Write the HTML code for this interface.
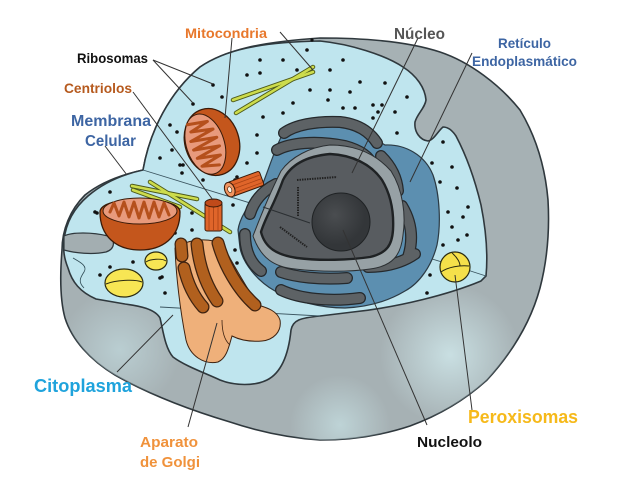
<!DOCTYPE html>
<html><head><meta charset="utf-8"><style>
html,body{margin:0;padding:0;background:#fff;}
svg{display:block;}
text{font-family:"Liberation Sans",sans-serif;font-weight:bold;}
</style></head><body>
<svg width="640" height="480" viewBox="0 0 640 480" xmlns="http://www.w3.org/2000/svg">
<defs>
<radialGradient id="hl1" cx="450" cy="355" r="70" gradientUnits="userSpaceOnUse">
<stop offset="0" stop-color="#cfe7ea" stop-opacity="0.85"/><stop offset="1" stop-color="#cfe7ea" stop-opacity="0"/></radialGradient>
<radialGradient id="hl2" cx="120" cy="350" r="60" gradientUnits="userSpaceOnUse">
<stop offset="0" stop-color="#c2dade" stop-opacity="0.7"/><stop offset="1" stop-color="#c2dade" stop-opacity="0"/></radialGradient>
<radialGradient id="hl3" cx="340" cy="425" r="50" gradientUnits="userSpaceOnUse">
<stop offset="0" stop-color="#c8e2e5" stop-opacity="0.7"/><stop offset="1" stop-color="#c8e2e5" stop-opacity="0"/></radialGradient>
<radialGradient id="nucg" cx="335" cy="215" r="30" gradientUnits="userSpaceOnUse">
<stop offset="0" stop-color="#4a4d50"/><stop offset="1" stop-color="#333639"/></radialGradient>
<path id="cell" d="M143,170 C150,130 170,92 200,67 C225,50 260,42 320,38 C370,38 410,42 440,52 C470,62 500,85 520,110 C535,135 545,165 548,200 C550,235 546,265 540,288 C530,325 510,355 487,380 C465,400 440,415 410,426 C380,436 350,440 320,440 C290,438 260,432 230,422 C190,410 150,395 115,375 C90,360 72,340 65,318 C60,300 60,275 62,250 C62,230 70,210 85,195 C100,183 120,175 143,170 Z"/>
</defs>

<!-- outer gray body -->
<use href="#cell" fill="#a6b1b4" stroke="#2f383d" stroke-width="1.6"/>
<use href="#cell" fill="url(#hl1)"/>
<use href="#cell" fill="url(#hl2)"/>
<use href="#cell" fill="url(#hl3)"/>

<!-- cyan cytoplasm cut-away -->
<path d="M143,170 C150,130 170,92 200,67 C225,50 260,42 320,41 C350,44 385,55 403,67 C417,76 425,88 426,100 C425,108 417,114 415,122 C414,132 420,140 428,141 C434,140 438,131 443,127 C448,127 452,130 456,136 C466,155 475,180 481,205 C486,230 488,255 486,276 L481,281 C450,294 400,307 353,312 L320,316 C300,318 293,320 291,330 C289,350 283,372 267,380 C255,386 235,386 220,380 C205,373 185,366 173,357 C165,348 163,330 160,318 C155,309 140,306 125,304 L96,299 C80,292 72,282 68,268 C64,258 63,250 64,240 C66,222 74,208 88,196 C102,184 120,175 143,170 Z" fill="#bfe5ee" stroke="#2f383d" stroke-width="1.6"/>

<!-- left gray lip -->
<path d="M64,236 C72,232 92,232 108,236 C116,240 115,249 106,252 C92,255 75,253 64,250 Z" fill="#a3aeb1" stroke="#2f383d" stroke-width="1.2"/>
<path d="M73,258 C80,262 88,266 84,272 C80,278 78,282 84,288" fill="none" stroke="#2f4b55" stroke-width="0.8"/>

<!-- cut plane lines -->
<g stroke="#3b5560" stroke-width="0.9" fill="none">
<path d="M143,170 L263,207"/>
<path d="M160,307 L320,316"/>
<path d="M370,240 L455,266 L486,276"/>
</g>

<!-- ribosome dots -->
<g fill="#111">
<circle cx="213" cy="85" r="1.8"/><circle cx="193" cy="104" r="1.8"/><circle cx="222" cy="97" r="1.8"/><circle cx="260" cy="60" r="1.8"/><circle cx="283" cy="60" r="1.8"/><circle cx="307" cy="50" r="1.8"/><circle cx="260" cy="73" r="1.8"/><circle cx="247" cy="75" r="1.8"/><circle cx="297" cy="70" r="1.8"/><circle cx="310" cy="90" r="1.8"/><circle cx="293" cy="103" r="1.8"/><circle cx="283" cy="113" r="1.8"/><circle cx="263" cy="117" r="1.8"/><circle cx="257" cy="135" r="1.8"/><circle cx="257" cy="153" r="1.8"/><circle cx="247" cy="163" r="1.8"/><circle cx="170" cy="125" r="1.8"/><circle cx="177" cy="132" r="1.8"/><circle cx="160" cy="158" r="1.8"/><circle cx="180" cy="165" r="1.8"/><circle cx="182" cy="173" r="1.8"/><circle cx="172" cy="150" r="1.8"/><circle cx="110" cy="192" r="1.8"/><circle cx="97" cy="213" r="1.8"/><circle cx="192" cy="213" r="1.8"/><circle cx="237" cy="177" r="1.8"/><circle cx="233" cy="205" r="1.8"/>
<circle cx="343" cy="60" r="1.8"/><circle cx="330" cy="70" r="1.8"/><circle cx="360" cy="82" r="1.8"/><circle cx="385" cy="83" r="1.8"/><circle cx="330" cy="90" r="1.8"/><circle cx="350" cy="92" r="1.8"/><circle cx="328" cy="100" r="1.8"/><circle cx="343" cy="108" r="1.8"/><circle cx="355" cy="108" r="1.8"/><circle cx="373" cy="105" r="1.8"/><circle cx="382" cy="105" r="1.8"/><circle cx="378" cy="112" r="1.8"/><circle cx="373" cy="118" r="1.8"/><circle cx="395" cy="112" r="1.8"/><circle cx="407" cy="97" r="1.8"/><circle cx="397" cy="133" r="1.8"/><circle cx="443" cy="142" r="1.8"/><circle cx="432" cy="163" r="1.8"/><circle cx="452" cy="167" r="1.8"/><circle cx="440" cy="182" r="1.8"/><circle cx="457" cy="188" r="1.8"/><circle cx="448" cy="212" r="1.8"/><circle cx="468" cy="207" r="1.8"/><circle cx="463" cy="217" r="1.8"/><circle cx="452" cy="227" r="1.8"/><circle cx="467" cy="235" r="1.8"/><circle cx="443" cy="245" r="1.8"/><circle cx="458" cy="240" r="1.8"/><circle cx="430" cy="275" r="1.8"/><circle cx="427" cy="293" r="1.8"/><circle cx="377" cy="300" r="1.8"/><circle cx="312" cy="40" r="1.6"/>
<circle cx="95" cy="212" r="1.8"/><circle cx="133" cy="262" r="1.8"/><circle cx="110" cy="267" r="1.8"/><circle cx="100" cy="275" r="1.8"/><circle cx="160" cy="278" r="1.8"/><circle cx="165" cy="293" r="1.8"/><circle cx="175" cy="233" r="1.8"/><circle cx="192" cy="230" r="1.8"/><circle cx="235" cy="250" r="1.8"/><circle cx="237" cy="263" r="1.8"/><circle cx="235" cy="180" r="1.8"/><circle cx="203" cy="180" r="1.8"/><circle cx="183" cy="165" r="1.8"/><circle cx="228" cy="167" r="1.8"/><circle cx="162" cy="277" r="1.8"/>
</g>

<!-- ER blue -->
<path d="M238,230 C240,215 253,200 261,188 C268,172 274,150 284,131 C295,121 310,117 330,117 C350,118 365,127 375,139 L385,145 C405,144 425,155 433,175 C440,195 441,225 437,245 C432,265 420,283 405,291 C390,300 370,307 345,308 C320,308 295,301 275,291 C257,281 243,263 240,248 Z" fill="#5c8fb0" stroke="#2b3a44" stroke-width="1.2"/>
<!-- ER dark cisternae -->
<g fill="none" stroke-linecap="round" stroke-linejoin="round">
<g stroke="#25292c" stroke-width="12">
<path d="M284,133 C295,125 315,121 340,122 C358,124 370,132 377,143"/>
<path d="M277,150 C290,143 315,140 345,146 C360,150 370,157 372,165"/>
<path d="M381,156 C391,166 397,178 398,191"/>
<path d="M402,206 C411,221 414,238 408,257"/>
<path d="M368,267 C385,267 402,263 415,254"/>
<path d="M250,214 C254,201 262,191 276,184"/>
<path d="M245,234 C245,249 249,262 261,271"/>
<path d="M281,272 C295,277 320,280 347,278"/>
<path d="M281,290 C300,299 330,302 360,298"/>
</g>
<g stroke="#5d6265" stroke-width="9.5">
<path d="M284,133 C295,125 315,121 340,122 C358,124 370,132 377,143"/>
<path d="M277,150 C290,143 315,140 345,146 C360,150 370,157 372,165"/>
<path d="M381,156 C391,166 397,178 398,191"/>
<path d="M402,206 C411,221 414,238 408,257"/>
<path d="M368,267 C385,267 402,263 415,254"/>
<path d="M250,214 C254,201 262,191 276,184"/>
<path d="M245,234 C245,249 249,262 261,271"/>
<path d="M281,272 C295,277 320,280 347,278"/>
<path d="M281,290 C300,299 330,302 360,298"/>
</g>
</g>
<!-- nuclear envelope -->
<path d="M253,236 C261,215 269,195 281,171 C291,157 310,147 330,145 C355,145 376,154 391,171 C403,190 406,215 403,235 C401,255 393,266 370,269 C350,272 320,272 295,269 C275,267 261,259 253,236 Z" fill="#97a1a5" stroke="#2b2f32" stroke-width="1"/>
<!-- nucleus -->
<path d="M261,232 C265,218 274,205 283,180 C291,164 308,156 330,154 C352,155 371,164 382,180 C391,195 394,212 393,230 C392,245 387,253 370,257 C350,260 320,261 297,258 C277,255 265,248 261,232 Z" fill="#585c60" stroke="#1f2224" stroke-width="2.4"/>
<path d="M263,207 L310,223" stroke="#2b2f32" stroke-width="1" fill="none"/>
<path d="M297,180 L337,177 M298,187 L298,217 M280,227 L307,247" stroke="#222" stroke-width="2" stroke-dasharray="1.5 1" fill="none"/>
<circle cx="341" cy="222" r="29" fill="url(#nucg)" stroke="#1f2224" stroke-width="1"/>

<!-- Golgi -->
<path d="M175,248 C176,275 180,310 186,340 C190,356 204,365 218,362 C227,358 229,346 232,336 C240,340 250,342 262,341 C273,340 282,332 280,320 C277,311 268,308 258,305 C245,285 232,262 222,244 C210,238 190,238 175,248 Z" fill="#efb07a" stroke="#3e2210" stroke-width="1"/>
<path d="M222,320 C222,330 224,340 230,345" fill="none" stroke="#3e2210" stroke-width="0.8"/>
<g fill="none" stroke-linecap="round" stroke-linejoin="round">
<g stroke="#3e2210" stroke-width="13">
<path d="M181,244 L182,256"/><path d="M184,268 C188,285 195,298 203,307"/><path d="M197,244 C199,265 206,285 217,301"/><path d="M218,243 C224,265 238,290 255,305"/>
</g>
<g stroke="#b1601e" stroke-width="10.5">
<path d="M181,244 L182,256"/><path d="M184,268 C188,285 195,298 203,307"/><path d="M197,244 C199,265 206,285 217,301"/><path d="M218,243 C224,265 238,290 255,305"/>
</g>
</g>

<!-- yellow vesicles -->
<ellipse cx="124" cy="283" rx="19" ry="14" fill="#f7e654" stroke="#2a2a10" stroke-width="1.2"/>
<path d="M106,284 C115,280 135,279 142,282" fill="none" stroke="#2a2a10" stroke-width="1"/>
<ellipse cx="156" cy="261" rx="11" ry="9" fill="#f7e654" stroke="#2a2a10" stroke-width="1.2"/>
<path d="M146,262 C150,259 162,258 166,261" fill="none" stroke="#2a2a10" stroke-width="0.9"/>
<circle cx="455" cy="267" r="15" fill="#f5e04a" stroke="#2a2a10" stroke-width="1.2"/>
<path d="M441,272 C448,267 460,265 469,266 M452,253 C458,258 460,263 460,266" fill="none" stroke="#2a2a10" stroke-width="1"/>

<!-- microtubules -->
<g stroke-linecap="round">
<g stroke="#4d5a1a" stroke-width="4.5">
<path d="M233,100 L313,72"/><path d="M236,113 L313,67"/>
<path d="M132,186 L197,199"/><path d="M150,182 L230,232"/><path d="M133,190 L180,207"/>
</g>
<g stroke="#cddc4c" stroke-width="2.6">
<path d="M233,100 L313,72"/><path d="M236,113 L313,67"/>
<path d="M132,186 L197,199"/><path d="M150,182 L230,232"/><path d="M133,190 L180,207"/>
</g>
</g>

<!-- top mitochondrion -->
<g transform="rotate(-18 212 142)">
<ellipse cx="212" cy="142" rx="27" ry="34" fill="#c4561c" stroke="#3a1a08" stroke-width="1.3"/>
<ellipse cx="205" cy="142" rx="19" ry="31" fill="#e89a7c" stroke="#3a1a08" stroke-width="1"/>
<path d="M194,118 L214,121 L195,126 L217,130 L192,135 L218,139 L192,144 L218,148 L193,153 L216,157 L195,162 L212,166" fill="none" stroke="#b5501c" stroke-width="3" stroke-linejoin="round" stroke-linecap="round"/>
</g>
<!-- left mitochondrion -->
<path d="M100,212 C100,195 180,195 180,212 C180,238 162,250 140,250 C116,250 100,236 100,212 Z" fill="#c4561c" stroke="#3a1a08" stroke-width="1.3"/>
<ellipse cx="140" cy="211" rx="37" ry="13" fill="#e89a7c" stroke="#3a1a08" stroke-width="1"/>
<path d="M110,212 L114,203 L119,216 L124,202 L129,217 L134,202 L139,218 L144,202 L149,218 L154,202 L159,217 L164,203 L169,215" fill="none" stroke="#b5501c" stroke-width="3" stroke-linejoin="round" stroke-linecap="round"/>

<!-- centrioles -->
<g transform="rotate(-20 244 185)">
<rect x="229" y="177" width="34" height="15" rx="2" fill="#e0652a" stroke="#3a1a08" stroke-width="1"/>
<path d="M231,181 H262 M231,185 H262 M231,189 H262" stroke="#a84214" stroke-width="0.8"/>
<ellipse cx="229" cy="184.5" rx="5" ry="7.5" fill="#f19560" stroke="#3a1a08" stroke-width="1"/>
<ellipse cx="229" cy="184.5" rx="2" ry="3" fill="#fff3e0" stroke="#3a1a08" stroke-width="0.6"/>
</g>
<rect x="205" y="203" width="17" height="28" rx="2" fill="#e0652a" stroke="#3a1a08" stroke-width="1"/>
<path d="M209,205 V230 M213.5,205 V230 M218,205 V230" stroke="#a84214" stroke-width="0.8"/>
<ellipse cx="213.5" cy="203" rx="8.5" ry="4" fill="#c04a1a" stroke="#3a1a08" stroke-width="1"/>

<!-- leader lines -->
<g stroke="#333" stroke-width="1" fill="none">
<path d="M232,38 L225,118"/>
<path d="M280,32 L313,70"/>
<path d="M153,60 L213,84"/><path d="M153,60 L193,103"/>
<path d="M133,92 L213,200"/>
<path d="M105,146 L127,175"/>
<path d="M418,38 L352,173"/>
<path d="M472,53 L410,182"/>
<path d="M117,372 L173,315"/>
<path d="M188,427 L217,323"/>
<path d="M343,230 L427,425"/>
<path d="M472,410 L455,275"/>
</g>

<!-- labels -->
<text x="185" y="38" font-size="14" fill="#e8782c" textLength="82" lengthAdjust="spacingAndGlyphs">Mitocondria</text>
<text x="77" y="63" font-size="14" fill="#111" textLength="71" lengthAdjust="spacingAndGlyphs">Ribosomas</text>
<text x="64" y="93" font-size="14" fill="#b65a1e" textLength="68" lengthAdjust="spacingAndGlyphs">Centriolos</text>
<text x="71" y="126" font-size="16" fill="#3d65a3" textLength="80" lengthAdjust="spacingAndGlyphs">Membrana</text>
<text x="85" y="146" font-size="16" fill="#3d65a3" textLength="51" lengthAdjust="spacingAndGlyphs">Celular</text>
<text x="394" y="39" font-size="16" fill="#555" textLength="51" lengthAdjust="spacingAndGlyphs">Núcleo</text>
<text x="498" y="48" font-size="14" fill="#3d65a3" textLength="53" lengthAdjust="spacingAndGlyphs">Retículo</text>
<text x="472" y="66" font-size="14" fill="#3d65a3" textLength="105" lengthAdjust="spacingAndGlyphs">Endoplasmático</text>
<text x="34" y="392" font-size="18" fill="#1fa3dc" textLength="98" lengthAdjust="spacingAndGlyphs">Citoplasma</text>
<text x="140" y="447" font-size="15" fill="#f0923b" textLength="58" lengthAdjust="spacingAndGlyphs">Aparato</text>
<text x="140" y="467" font-size="15" fill="#f0923b" textLength="60" lengthAdjust="spacingAndGlyphs">de Golgi</text>
<text x="468" y="423" font-size="18" fill="#f6b91a" textLength="110" lengthAdjust="spacingAndGlyphs">Peroxisomas</text>
<text x="417" y="447" font-size="15" fill="#111" textLength="65" lengthAdjust="spacingAndGlyphs">Nucleolo</text>
</svg>
</body></html>
